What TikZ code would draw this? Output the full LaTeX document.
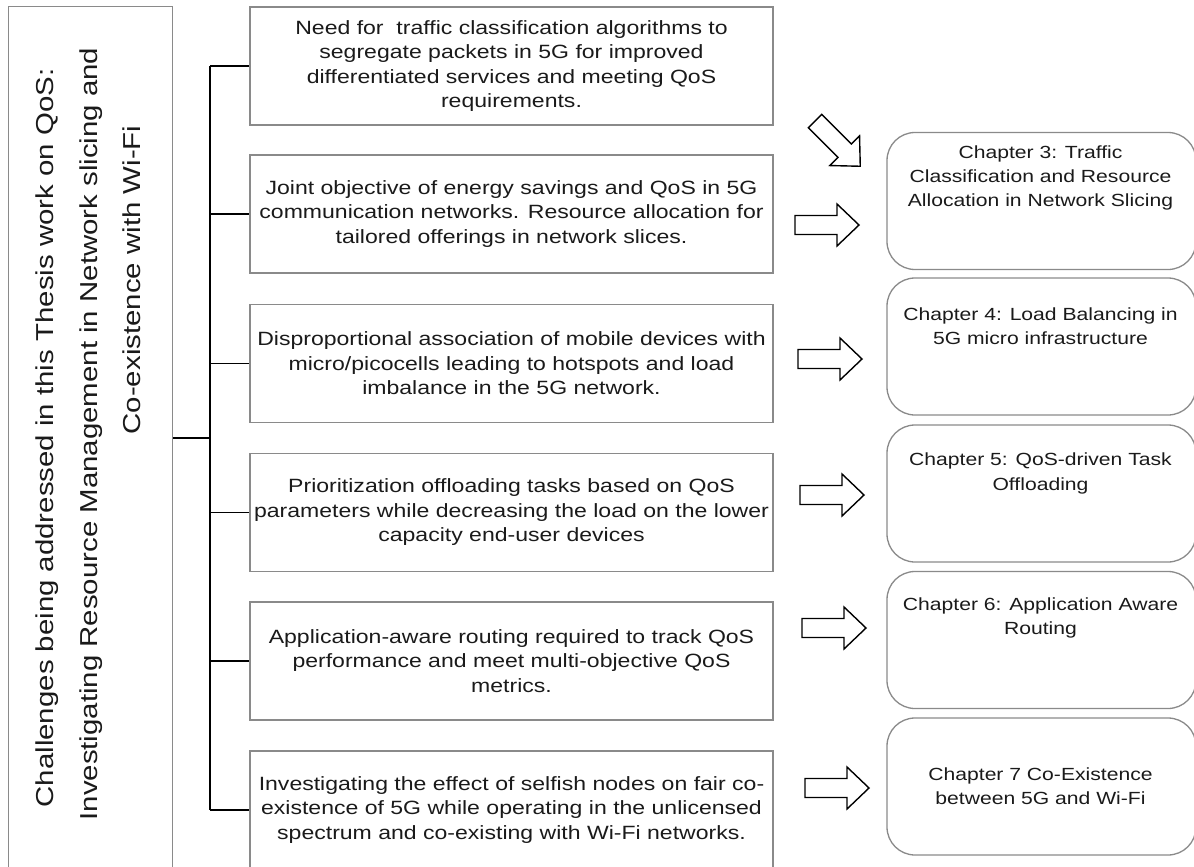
\documentclass[tikz,border=0pt]{standalone}
\usepackage{fontspec}
\setmainfont{Liberation Sans}
\newfontfamily\widesans[FakeStretch=1.2]{Liberation Sans}
\definecolor{boxgray}{HTML}{8A8A8A}
\definecolor{inkblack}{HTML}{1A1A1A}

\tikzset{
  pics/blockarrow/.style={code={
    \draw[arrowline] (0,-9.5) -- (42,-9.5) -- (42,-21) -- (64,0)
      -- (42,21) -- (42,9.5) -- (0,9.5) -- cycle;}},
}

\begin{document}
\begin{tikzpicture}[x=1pt,y=-1pt,
  framebox/.style={draw=boxgray, line width=1.3pt, inner sep=0pt},
  issue/.style={framebox, minimum width=523pt, minimum height=118pt,
    align=center, text=inkblack, font=\widesans\fontsize{19.2}{24.5}\selectfont},
  chapterbox/.style={framebox, rounded corners=28pt, minimum width=309pt,
    minimum height=137pt},
  chaptertext/.style={inner sep=0pt, align=center, text=inkblack,
    font=\widesans\fontsize{17.6}{24.2}\selectfont},
  titleline/.style={rotate=90, anchor=base, inner sep=0pt, text=inkblack,
    font=\widesans\fontsize{24.5}{30}\selectfont},
  bracket/.style={line width=1.8pt, black},
  arrowline/.style={draw=black, line width=1.4pt, fill=white, line join=miter},
]
\useasboundingbox (0,0) rectangle (1194,867);
\clip (0,0) rectangle (1194,867);

% title panel on the left
\node[framebox, minimum width=164pt, minimum height=880pt, anchor=north west]
  (frame) at (8,6) {};
\node[titleline] (title1) at (53,438)
  {Challenges being addressed in this Thesis work on QoS:};
\node[titleline] (title2) at (97,434)
  {Investigating Resource Management in Network slicing and};
\node[titleline] (title3) at (140,280)
  {Co-existence with Wi-Fi};

% challenge boxes
\node[issue] (i1) at (511.5,66) {Need for~ traffic classification algorithms to\\
  segregate packets in 5G for improved\\differentiated services and meeting QoS\\requirements.};
\node[issue] (i2) at (511.5,214) {Joint objective of energy savings and QoS in 5G\\
  communication networks. Resource allocation for\\tailored offerings in network slices.};
\node[issue] (i3) at (511.5,363.5) {Disproportional association of mobile devices with\\
  micro/picocells leading to hotspots and load\\imbalance in the 5G network.};
\node[issue] (i4) at (511.5,512.5) {Prioritization offloading tasks based on QoS\\
  parameters while decreasing the load on the lower\\capacity end-user devices};
\node[issue] (i5) at (511.5,661) {Application-aware routing required to track QoS\\
  performance and meet multi-objective QoS\\metrics.};
\node[issue] (i6) at (511.5,810) {Investigating the effect of selfish nodes on fair co-\\
  existence of 5G while operating in the unlicensed\\spectrum and co-existing with Wi-Fi networks.};

% bracket joining the title panel to the challenges
\coordinate (hub) at (210,438);
\draw[bracket] (frame.east |- hub) -- (hub);
\draw[bracket] (hub |- i1.west) -- (hub |- i6.west);
\foreach \n in {i1,i2,i3,i4,i5,i6}
  \draw[bracket, line width=1.5pt] (hub |- \n.west) -- (\n.west);

% chapter boxes
\node[chapterbox] (c1) at (1041.5,201) {};
\node[chapterbox] (c2) at (1041.5,346.5) {};
\node[chapterbox] (c3) at (1041.5,493.5) {};
\node[chapterbox] (c4) at (1041.5,640) {};
\node[chapterbox] (c5) at (1041.5,786.5) {};
\node[chaptertext] (ct1) at ([xshift=-1pt,yshift=23pt]c1.center)
  {Chapter 3: Traffic\\Classification and Resource\\Allocation in Network Slicing};
\node[chaptertext] (ct2) at ([xshift=-1pt,yshift=20pt]c2.center)
  {Chapter 4: Load Balancing in\\5G micro infrastructure};
\node[chaptertext] (ct3) at ([xshift=-1pt,yshift=20pt]c3.center)
  {Chapter 5: QoS-driven Task\\Offloading};
\node[chaptertext] (ct4) at ([xshift=-1pt,yshift=22pt]c4.center)
  {Chapter 6: Application Aware\\Routing};
\node[chaptertext] (ct5) at ([xshift=-1pt]c5.center)
  {Chapter 7 Co-Existence\\between 5G and Wi-Fi};

% block arrows
\pic[rotate=-45] (a1) at (815,121) {blockarrow};
\pic (a2) at (795,225) {blockarrow};
\pic (a3) at (798,359) {blockarrow};
\pic (a4) at (800,495) {blockarrow};
\pic (a5) at (802,628) {blockarrow};
\pic (a6) at (805,788) {blockarrow};
\end{tikzpicture}
\end{document}
